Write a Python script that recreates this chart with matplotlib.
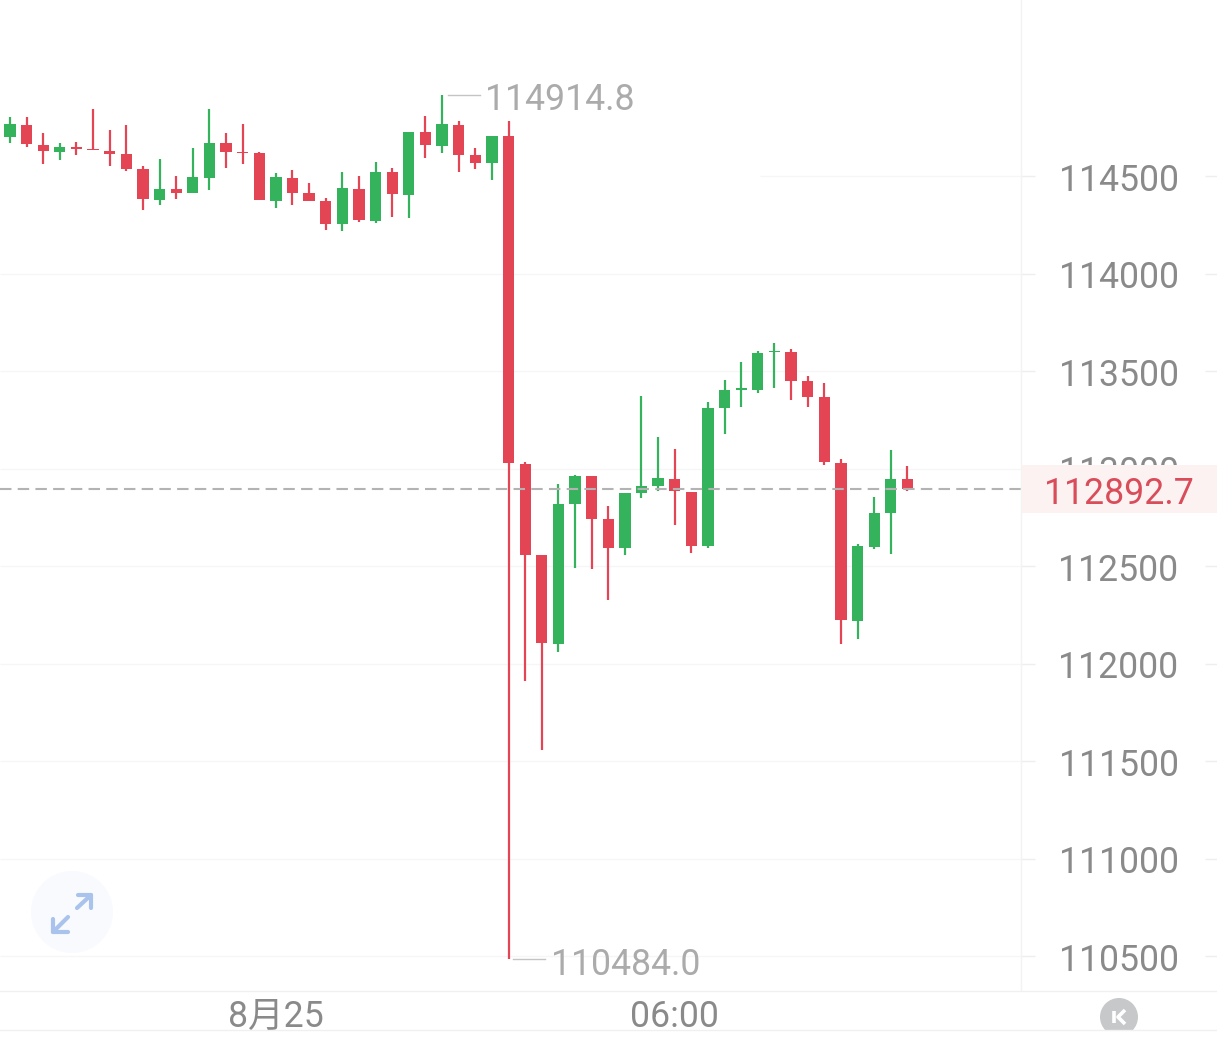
import matplotlib
matplotlib.use('Agg')
import matplotlib.pyplot as plt
from matplotlib.patches import Circle, Rectangle

# 15 min candles
opens = [114702, 114761, 114661, 114625, 114647, 114637, 114628, 114611, 114536, 114379,
         114432, 114413, 114490, 114668, 114625, 114618, 114373, 114491, 114411, 114370,
         114254, 114435, 114271, 114520, 114403, 114726, 114656, 114763, 114608, 114568,
         114705, 113025, 112556, 112102, 112816, 112962, 112739, 112592, 112873, 112910,
         112946, 112881, 112603, 113309, 113404, 113404, 113599, 113599, 113447, 113365,
         113028, 112220, 112598, 112770, 112946]
closes = [114765, 114664, 114626, 114650, 114640, 114632, 114615, 114536, 114380, 114433,
          114415, 114493, 114669, 114621, 114618, 114375, 114495, 114415, 114373, 114256,
          114437, 114273, 114522, 114406, 114727, 114657, 114767, 114609, 114568, 114707,
          113027, 112558, 112103, 112820, 112963, 112743, 112594, 112876, 112912, 112950,
          112883, 112604, 113310, 113403, 113411, 113594, 113604, 113449, 113368, 113032,
          112223, 112601, 112772, 112948, 112892.7]
highs = [114804, 114801, 114719, 114667, 114673, 114844, 114738, 114761, 114550, 114585,
         114498, 114642, 114845, 114722, 114765, 114623, 114514, 114529, 114462, 114385,
         114519, 114498, 114570, 114541, 114727, 114808, 114914.8, 114784, 114645, 114707,
         114780, 113032, 112556, 112921, 112967, 112962, 112809, 112876, 113374, 113160,
         113100, 112881, 113341, 113456, 113544, 113601, 113645, 113615, 113473, 113437,
         113047, 112615, 112856, 113095, 113013]
lows = [114671, 114650, 114563, 114582, 114608, 114632, 114553, 114527, 114327, 114351,
        114380, 114411, 114428, 114543, 114560, 114375, 114338, 114351, 114372, 114225,
        114220, 114262, 114261, 114290, 114285, 114591, 114618, 114522, 114534, 114479,
        110484.0, 111910, 111556, 112061, 112488, 112485, 112327, 112558, 112850, 112885,
        112709, 112565, 112592, 113175, 113315, 113389, 113411, 113353, 113315, 113018,
        112102, 112126, 112589, 112563, 112886]

price_ticks = [114500, 114000, 113500, 113000, 112500, 112000, 111500, 111000, 110500]
time_pos = [16, 40]
time_labels = ['8月25', '06:00']
last_price = 112892.7
high_label = '114914.8'
low_label = '110484.0'

UP = '#35b25c'
DOWN = '#e44555'
GRID = '#f6f6f6'
TEXT = '#8a8a8a'
FONT = ['Roboto', 'Noto Sans CJK SC']
FS = 25.7

fig = plt.figure(figsize=(12.17, 10.46), dpi=100)
ax = fig.add_axes([0, 0, 1, 1])
ax.set_xlim(-0.6, 72.63)
ax.set_ylim(110038.5, 115402.6)
ax.axis('off')


def xpx(p):
    # picture x pixel to candle index
    return -0.6 + p / 1217 * 73.23


# grid, top one fades out to the left in the app
for t in price_ticks:
    left = xpx(760) if t == 114500 else xpx(0)
    ax.hlines(t, left, xpx(1021), color=GRID, lw=1, zorder=1)
    ax.hlines(t, xpx(1021), xpx(1035), color='#eeeeee', lw=1, zorder=1)
    ax.hlines(t, xpx(1205), xpx(1217), color='#eeeeee', lw=1, zorder=1)
    ax.text(xpx(1178.5), t - 4, str(t), ha='right', va='center_baseline', fontsize=FS,
            color=TEXT, family=FONT, zorder=2)

# candles
for i in range(len(opens)):
    c = UP if closes[i] >= opens[i] else DOWN
    ax.vlines(i, lows[i], highs[i], color=c, lw=1.6, zorder=3)
    body_low = min(opens[i], closes[i])
    body_h = abs(closes[i] - opens[i])
    ax.bar(i, body_h, bottom=body_low, width=0.68, color=c, zorder=3, lw=0)

# last price line and label
ax.plot([xpx(0), xpx(1021)], [last_price, last_price], color='#b3b3b3', lw=1.5,
        linestyle=(0, (5.5, 3)), zorder=4)
ax.add_patch(Rectangle((xpx(1021), last_price - 122), xpx(1217) - xpx(1021), 246,
                       facecolor='#fdf2f2', edgecolor='none', zorder=5))
ax.text(xpx(1193.5), last_price - 3, f'{last_price:.1f}', ha='right', va='center_baseline',
        fontsize=FS, color='#d94c5a', family=FONT, zorder=6)

# high / low callouts
ax.plot([xpx(448), xpx(480)], [max(highs), max(highs)], color='#c4c4c4', lw=1, zorder=3)
ax.text(xpx(484.5), max(highs) - 5, high_label, ha='left', va='center_baseline',
        fontsize=FS, color='#ababab', family=FONT)
ax.plot([xpx(513), xpx(545)], [min(lows), min(lows)], color='#c4c4c4', lw=1, zorder=3)
ax.text(xpx(551.5), min(lows) - 12, low_label, ha='left', va='center_baseline',
        fontsize=FS, color='#ababab', family=FONT)

# time labels
for pos, lab in zip(time_pos, time_labels):
    ax.text(pos, 110500 - 56.5 * 5.128, lab, ha='center', va='center_baseline',
            fontsize=FS, color=TEXT, family=FONT)

# app chrome in pixel coords
ui = fig.add_axes([0, 0, 1, 1], facecolor='none')
ui.set_xlim(0, 1217)
ui.set_ylim(1046, 0)
ui.axis('off')
ui.plot([1021, 1021], [0, 990], color='#f3f3f3', lw=1)
ui.plot([0, 1217], [991, 991], color='#f0f0f0', lw=1)
ui.plot([0, 1217], [1030, 1030], color='#f0f0f0', lw=1)

ui.add_patch(Circle((72, 912), 41, facecolor='#f8fafe', edgecolor='none'))
arrow = dict(color='#a9c3ec', lw=3, solid_capstyle='round', solid_joinstyle='round')
ui.plot([77, 91], [908, 895], **arrow)
ui.plot([78, 91, 91], [895, 895, 908], **arrow)
ui.plot([68, 53], [917, 932], **arrow)
ui.plot([53, 53, 68], [919, 932, 932], **arrow)

k_btn = Circle((1119, 1017), 19, facecolor='#c7c8ca', edgecolor='none')
ui.add_patch(k_btn)
k_btn.set_clip_path(Rectangle((1090, 990), 60, 40, transform=ui.transData))
ui.plot([1114, 1114], [1011, 1023], color='white', lw=2.6, solid_capstyle='butt')
ui.plot([1125, 1118, 1125], [1010, 1017, 1024], color='white', lw=2.6, solid_capstyle='butt')

fig.savefig('out.png', dpi=100, facecolor='white')
